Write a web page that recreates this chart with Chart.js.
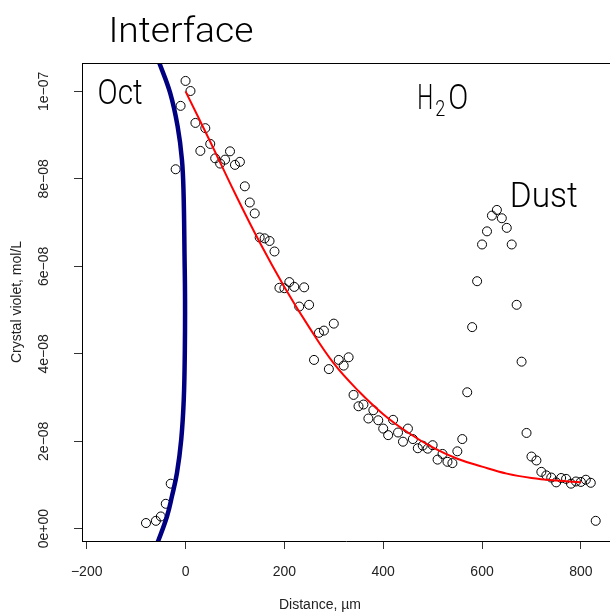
<!DOCTYPE html>
<html>
<head>
<meta charset="utf-8">
<script src="https://cdn.jsdelivr.net/npm/chart.js@4.4.0/dist/chart.umd.min.js"></script>
<style>
    html, body { margin: 0; padding: 0; background: #fff; }
    #plot { display: block; }
</style>
</head>
<body>
<canvas id="plot" width="610" height="615"></canvas>
<script>
// axis ticks
const xTicks = [-200, 0, 200, 400, 600, 800];
const xTickLabels = ['\u2212200', '0', '200', '400', '600', '800'];
const yTicks = [0, 2e-8, 4e-8, 6e-8, 8e-8, 1e-7];
const yTickLabels = ['0e+00', '2e\u221208', '4e\u221208', '6e\u221208', '8e\u221208', '1e\u221207'];

// measured profile (distance in um, crystal violet in mol/L)
const distance = [
    -80, -60, -50, -40, -30, -20, -10, 0, 10, 20,
    30, 40, 50, 60, 70, 80, 90, 100, 110, 120,
    130, 140, 150, 160, 170, 180, 190, 200, 210, 220,
    230, 240, 250, 260, 270, 280, 290, 300, 310, 320,
    330, 340, 350, 360, 370, 380, 390, 400, 410, 420,
    430, 440, 450, 460, 470, 480, 490, 500, 510, 520,
    530, 540, 550, 560, 570, 580, 590, 600, 610, 620,
    630, 640, 650, 660, 670, 680, 690, 700, 710, 720,
    730, 740, 750, 760, 770, 780, 790, 800, 810, 820,
    830
];
const violet = [
    0.13e-8, 0.18e-8, 0.28e-8, 0.57e-8, 1.03e-8, 8.22e-8, 9.67e-8, 10.24e-8, 10.01e-8, 9.28e-8,
    8.64e-8, 9.16e-8, 8.80e-8, 8.47e-8, 8.35e-8, 8.44e-8, 8.63e-8, 8.32e-8, 8.39e-8, 7.83e-8,
    7.46e-8, 7.21e-8, 6.66e-8, 6.64e-8, 6.58e-8, 6.34e-8, 5.51e-8, 5.50e-8, 5.64e-8, 5.53e-8,
    5.08e-8, 5.52e-8, 5.12e-8, 3.86e-8, 4.48e-8, 4.53e-8, 3.65e-8, 4.69e-8, 3.86e-8, 3.73e-8,
    3.92e-8, 3.06e-8, 2.80e-8, 2.84e-8, 2.52e-8, 2.71e-8, 2.48e-8, 2.29e-8, 2.14e-8, 2.49e-8,
    2.20e-8, 1.99e-8, 2.29e-8, 2.05e-8, 1.84e-8, 1.90e-8, 1.83e-8, 1.91e-8, 1.58e-8, 1.71e-8,
    1.53e-8, 1.50e-8, 1.77e-8, 2.05e-8, 3.12e-8, 4.61e-8, 5.66e-8, 6.50e-8, 6.80e-8, 7.16e-8,
    7.29e-8, 7.10e-8, 6.88e-8, 6.50e-8, 5.12e-8, 3.82e-8, 2.19e-8, 1.65e-8, 1.56e-8, 1.30e-8,
    1.22e-8, 1.17e-8, 1.06e-8, 1.16e-8, 1.14e-8, 1.03e-8, 1.08e-8, 1.07e-8, 1.12e-8, 1.05e-8,
    0.18e-8
];

// diffusion fit (red curve)
const fitX = [0, 50, 100, 150, 200, 250, 300, 350, 400, 450, 500, 550, 600, 650, 700, 750, 800];
const fitY = [
    10.0e-8, 8.85e-8, 7.67e-8, 6.55e-8, 5.53e-8, 4.61e-8, 3.78e-8, 3.15e-8, 2.62e-8,
    2.20e-8, 1.86e-8, 1.60e-8, 1.42e-8, 1.26e-8, 1.16e-8, 1.10e-8, 1.06e-8
];

// octanol / water interface (blue curve)
const interfaceX = [-60, -53, -31, -16, -7.3, -4, -2, -1, -1.4, -3.6, -8.7, -17.4, -27.5, -37.6, -55, -60];
const interfaceY = [
    10.85e-8, 10.65e-8, 9.96e-8, 9.2e-8, 8.44e-8, 7.68e-8, 6.23e-8, 5.24e-8, 4.09e-8,
    2.95e-8, 2.04e-8, 1.27e-8, 0.74e-8, 0.28e-8, -0.27e-8, -0.4e-8
];

const toPoints = (xs, ys) => xs.map((x, i) => ({ x: x, y: ys[i] }));

const tickFont = { family: '"Liberation Sans", Arial, sans-serif', size: 14 };
const labelFont = '"Roboto", "Liberation Sans Narrow", sans-serif';

function drawWord(ctx, text, left, baseline, size, width, weight) {
    ctx.save();
    ctx.font = weight + ' ' + size + 'px ' + labelFont;
    const w = ctx.measureText(text).width;
    ctx.translate(left, baseline);
    ctx.scale(width / w, 1);
    ctx.textAlign = 'left';
    ctx.textBaseline = 'alphabetic';
    ctx.fillText(text, 0, 0);
    ctx.restore();
}

const annotate = {
    id: 'annotate',
    afterDraw(chart) {
        const { ctx, chartArea, scales } = chart;
        const x = scales.x, y = scales.y;
        ctx.save();

        // top frame line
        ctx.strokeStyle = '#000';
        ctx.lineWidth = 1;
        ctx.beginPath();
        ctx.moveTo(chartArea.left, Math.round(chartArea.top) + 0.5);
        ctx.lineTo(chartArea.right, Math.round(chartArea.top) + 0.5);
        ctx.stroke();

        // rotated y tick labels, like R's las = 0
        ctx.font = '14px ' + tickFont.family;
        ctx.fillStyle = '#222';
        ctx.textAlign = 'center';
        ctx.textBaseline = 'middle';
        yTicks.forEach((v, i) => {
            ctx.save();
            ctx.translate(44, y.getPixelForValue(v));
            ctx.rotate(-Math.PI / 2);
            ctx.fillText(yTickLabels[i], 0, 0);
            ctx.restore();
        });

        // x axis title
        ctx.fillText('Distance, \u00b5m', 320, 605);

        // region labels
        ctx.fillStyle = '#000';
        drawWord(ctx, 'Interface', x.getPixelForValue(-156), 42, 35, 145, 300);
        drawWord(ctx, 'Oct', x.getPixelForValue(-178), y.getPixelForValue(9.71e-8), 35, 45, 300);
        drawWord(ctx, 'Dust', x.getPixelForValue(656), y.getPixelForValue(7.36e-8), 35, 68, 300);
        const h2oLeft = x.getPixelForValue(469);
        const h2oBase = y.getPixelForValue(9.6e-8);
        drawWord(ctx, 'H', h2oLeft, h2oBase, 35, 16, 300);
        drawWord(ctx, '2', h2oLeft + 18, h2oBase + 7, 22, 10, 300);
        drawWord(ctx, 'O', h2oLeft + 31, h2oBase, 35, 20, 300);

        ctx.restore();
    }
};

new Chart(document.getElementById('plot'), {
    type: 'scatter',
    data: {
        datasets: [
            {
                label: 'Interface',
                data: toPoints(interfaceX, interfaceY),
                showLine: true,
                borderColor: '#000080',
                borderWidth: 4.5,
                pointRadius: 0,
                tension: 0.4,
                order: 1
            },
            {
                label: 'Fit',
                data: toPoints(fitX, fitY),
                showLine: true,
                borderColor: '#ff0000',
                borderWidth: 2,
                pointRadius: 0,
                tension: 0.4,
                order: 2
            },
            {
                label: 'Crystal violet',
                data: toPoints(distance, violet),
                showLine: false,
                pointStyle: 'circle',
                pointRadius: 4.5,
                borderColor: '#000',
                borderWidth: 1,
                backgroundColor: 'rgba(0,0,0,0)',
                order: 3
            }
        ]
    },
    options: {
        responsive: false,
        animation: false,
        devicePixelRatio: 1,
        layout: {
            autoPadding: false,
            padding: { top: 63, right: 0, bottom: 0, left: 0 }
        },
        plugins: {
            legend: { display: false },
            tooltip: { enabled: false }
        },
        scales: {
            x: {
                type: 'linear',
                min: -209.5,
                max: 858.9,
                afterBuildTicks: s => { s.ticks = xTicks.map(v => ({ value: v })); },
                afterFit: s => {
                    s.height = 74;
                    s.paddingLeft = 0;
                    s.paddingRight = 0;
                },
                grid: { drawOnChartArea: false, tickLength: 8, color: '#333' },
                border: { color: '#000', width: 1 },
                ticks: {
                    callback: (v, i) => xTickLabels[i],
                    font: tickFont,
                    color: '#222',
                    padding: 15,
                    maxRotation: 0,
                    autoSkip: false
                }
            },
            y: {
                type: 'linear',
                min: -2.81e-9,
                max: 1.065e-7,
                afterBuildTicks: s => { s.ticks = yTicks.map(v => ({ value: v })); },
                afterFit: s => {
                    s.width = 82;
                    s.paddingTop = 0;
                    s.paddingBottom = 0;
                },
                grid: { drawOnChartArea: false, tickLength: 8, color: '#333' },
                border: { color: '#000', width: 1 },
                ticks: { display: false },
                title: {
                    display: true,
                    text: 'Crystal violet, mol/L',
                    font: tickFont,
                    color: '#222',
                    padding: { top: 9, bottom: 0 }
                }
            }
        }
    },
    plugins: [annotate]
});
</script>
</body>
</html>
